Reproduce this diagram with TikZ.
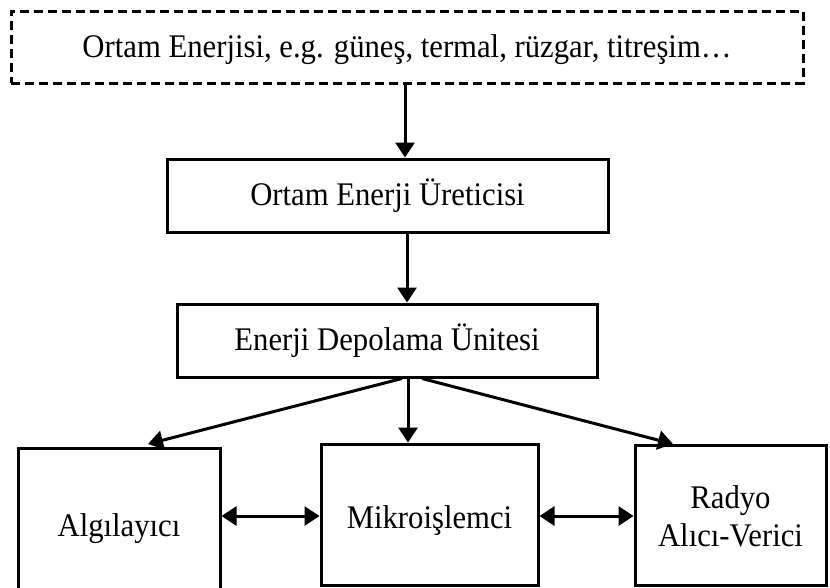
\documentclass[tikz,border=0pt]{standalone}
\usepackage{fontspec}
\setmainfont[FakeStretch=0.93]{Liberation Serif}
\usetikzlibrary{arrows.meta}
% move a label down inside its box while keeping the box extents
\newcommand\shiftdown[2]{\raisebox{-#1}[\height][\depth]{#2}}
\begin{document}
\begin{tikzpicture}[x=1pt,y=-1pt,
  box/.style={draw, line width=3pt, inner sep=0pt, align=center,
    font=\fontsize{33}{38}\selectfont},
  dashbox/.style={box, dash pattern=on 9pt off 5pt},
  arr/.style={line width=3pt, -{Triangle[length=15pt,width=19pt]}},
  biarr/.style={line width=3pt, {Triangle[length=15pt,width=19pt]}-{Triangle[length=15pt,width=19pt]}}]
\useasboundingbox (0,0) rectangle (830,587);
\clip (0,0) rectangle (830,587);

% energy source and conversion chain
\node[dashbox, minimum width=792pt, minimum height=72pt] (src) at (407,47)
  {\shiftdown{3pt}{Ortam Enerjisi, e.g. güneş, termal, rüzgar, titreşim…}};
\node[box, minimum width=441pt, minimum height=73pt] (gen) at (387.5,195.5)
  {Ortam Enerji Üreticisi};
\node[box, minimum width=420pt, minimum height=73pt] (store) at (387,340.5)
  {Enerji Depolama Ünitesi};

% node units
\node[box, minimum width=202pt, minimum height=152pt] (sens) at (119,524)
  {\shiftdown{5pt}{Algılayıcı}};
\node[box, minimum width=217pt, minimum height=141pt] (mcu) at (429.5,514.5)
  {\shiftdown{6pt}{Mikroişlemci}};
\node[box, minimum width=191pt, minimum height=140pt] (radio) at (730.5,515)
  {\shiftdown{5pt}{\begin{tabular}{@{}c@{}}Radyo\\Alıcı-Verici\end{tabular}}};

% helper coordinates for connector columns and rows
\coordinate (c1) at (405,0);
\coordinate (c2) at (407,0);
\coordinate (sl) at (402,0);
\coordinate (sm) at (408,0);
\coordinate (sr) at (422,0);
\coordinate (tl) at (148,0);
\coordinate (tr) at (673,0);
\coordinate (row) at (0,516);
\coordinate (tipy) at (0,444);

\draw[arr] (src.south -| c1) -- (gen.north -| c1);
\draw[arr] (gen.south -| c2) -- (store.north -| c2);

\draw[arr] (store.south -| sl) -- (tl |- tipy);
\draw[arr] (store.south -| sm) -- (mcu.north -| sm);
\draw[arr] (store.south -| sr) -- (tr |- tipy);

\draw[biarr] (sens.east |- row) -- (mcu.west |- row);
\draw[biarr] (mcu.east |- row) -- (radio.west |- row);
\end{tikzpicture}
\end{document}
